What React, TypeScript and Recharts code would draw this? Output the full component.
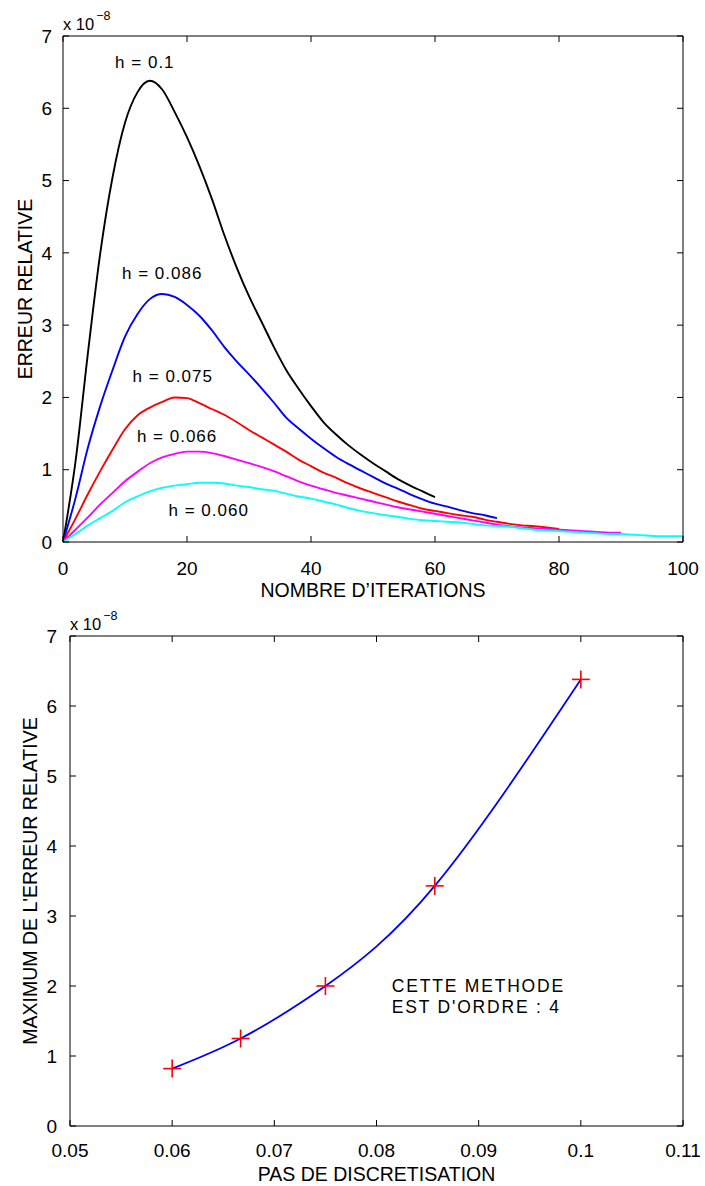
import { Line, LineChart, ReferenceDot, ReferenceLine, XAxis, YAxis } from "recharts";

const FONT = "'Liberation Sans', Arial, Helvetica, sans-serif";

// top chart: relative error vs. iteration count, one curve per step h
const iterations = [
  0, 2, 4, 6, 8, 10, 12, 14, 16, 18, 20, 22, 24, 26, 28, 30, 32, 34, 36, 38, 40, 42, 44, 46, 48, 50,
  52, 54, 56, 58, 60, 62, 64, 66, 68, 70, 72, 74, 76, 78, 80, 82, 84, 86, 88, 90, 92, 94, 96, 98, 100,
];

const err010 = [
  0, 1.1, 2.6, 3.99, 5.05, 5.8, 6.22, 6.38, 6.26, 5.95, 5.6, 5.2, 4.75, 4.25, 3.8, 3.4, 3.05, 2.7,
  2.38, 2.12, 1.88, 1.66, 1.49, 1.34, 1.21, 1.09, 0.98, 0.87, 0.78, 0.7, 0.62,
];
const err086 = [
  0, 0.6, 1.3, 1.88, 2.38, 2.84, 3.15, 3.36, 3.43, 3.39, 3.28, 3.13, 2.93, 2.7, 2.5, 2.32, 2.13, 1.93,
  1.72, 1.57, 1.43, 1.3, 1.18, 1.08, 0.99, 0.9, 0.81, 0.74, 0.66, 0.59, 0.53, 0.49, 0.44, 0.4, 0.37,
  0.33,
];
const err075 = [
  0, 0.32, 0.66, 0.98, 1.28, 1.56, 1.75, 1.86, 1.94, 2.0, 1.99, 1.92, 1.84, 1.76, 1.66, 1.55, 1.45,
  1.35, 1.25, 1.14, 1.05, 0.96, 0.89, 0.81, 0.74, 0.68, 0.62, 0.56, 0.51, 0.46, 0.43, 0.4, 0.37, 0.35,
  0.31, 0.28, 0.25, 0.23, 0.22, 0.2, 0.18,
];
const err066 = [
  0, 0.17, 0.34, 0.52, 0.68, 0.84, 0.97, 1.09, 1.17, 1.22, 1.25, 1.25, 1.23, 1.19, 1.14, 1.09, 1.04,
  0.98, 0.91, 0.84, 0.78, 0.73, 0.68, 0.64, 0.6, 0.56, 0.52, 0.48, 0.45, 0.42, 0.39, 0.36, 0.33, 0.3,
  0.27, 0.24, 0.22, 0.2, 0.19, 0.18, 0.17, 0.16, 0.15, 0.14, 0.13, 0.13,
];
const err060 = [
  0, 0.11, 0.23, 0.33, 0.43, 0.55, 0.63, 0.7, 0.75, 0.78, 0.8, 0.82, 0.82, 0.81, 0.78, 0.76, 0.73,
  0.71, 0.67, 0.63, 0.6, 0.56, 0.52, 0.47, 0.43, 0.4, 0.37, 0.35, 0.32, 0.3, 0.29, 0.28, 0.27, 0.25,
  0.23, 0.22, 0.21, 0.19, 0.17, 0.16, 0.15, 0.14, 0.13, 0.12, 0.11, 0.11, 0.1, 0.09, 0.08, 0.08, 0.08,
];

const seriesKeys = ["h010", "h086", "h075", "h066", "h060"];
const seriesColors = ["#000000", "#0000ff", "#ff0000", "#ff00ff", "#00ffff"];
const seriesValues = [err010, err086, err075, err066, err060];

const curveLabels = ["h = 0.1", "h = 0.086", "h = 0.075", "h = 0.066", "h = 0.060"];
const labelIters = [13.2, 16.0, 17.7, 18.4, 23.5];
const labelErrors = [6.64, 3.72, 2.3, 1.47, 0.44];

const errTicks = [0, 1, 2, 3, 4, 5, 6, 7];
const iterTicks = [0, 20, 40, 60, 80, 100];

// bottom chart: max error vs. step size
const hSteps = [0.06, 0.0667, 0.075, 0.0857, 0.1];
const maxErrors = [0.82, 1.25, 2.0, 3.43, 6.38];
const hTicks = [0.05, 0.06, 0.07, 0.08, 0.09, 0.1, 0.11];

const noteLines = ["CETTE METHODE", "EST D'ORDRE : 4"];
const noteH = [0.0815, 0.0815];
const noteErr = [2.0, 1.7];

const iterRows = iterations.map((it, i) => {
  const row: Record<string, number | undefined> = { it };
  seriesKeys.forEach((k, s) => {
    row[k] = seriesValues[s][i];
  });
  return row;
});

const orderRows = hSteps.map((h, i) => ({ h, err: maxErrors[i] }));

const tickStyle = { fontSize: 19, fill: "#000" };

// box on + inward ticks on all four sides (matlab style), drawn in data units
function frame(
  xTicks: number[],
  yTicks: number[],
  xDom: [number, number],
  yDom: [number, number],
  tx: number,
  ty: number,
  id: string
) {
  const [x0, x1] = xDom;
  const [y0, y1] = yDom;
  const seg = (a: any, b: any, key: string) => (
    <ReferenceLine key={`${id}-${key}`} segment={[a, b]} stroke="#000" strokeWidth={1} ifOverflow="visible" />
  );
  const out = [
    seg({ x: x0, y: y1 }, { x: x1, y: y1 }, "top"),
    seg({ x: x1, y: y0 }, { x: x1, y: y1 }, "right"),
  ];
  xTicks.forEach((v) => {
    out.push(seg({ x: v, y: y0 }, { x: v, y: y0 + ty }, `xb${v}`));
    out.push(seg({ x: v, y: y1 }, { x: v, y: y1 - ty }, `xt${v}`));
  });
  yTicks.forEach((v) => {
    out.push(seg({ x: x0, y: v }, { x: x0 + tx, y: v }, `yl${v}`));
    out.push(seg({ x: x1, y: v }, { x: x1 - tx, y: v }, `yr${v}`));
  });
  return out;
}

function yTitle(text: string, offsetX: number) {
  return (props: any) => {
    const vb = props.viewBox;
    const cx = vb.x + offsetX;
    const cy = vb.y + vb.height / 2;
    return (
      <g>
        <text
          x={cx}
          y={cy}
          transform={`rotate(-90 ${cx} ${cy})`}
          textAnchor="middle"
          dominantBaseline="central"
          fontSize={19.5}
          fill="#000"
        >
          {text}
        </text>
        <text x={vb.x + vb.width} y={vb.y - 6} fontSize={16.5} fill="#000">
          x 10
          <tspan dx={2} dy={-10} fontSize={12.5}>
            −8
          </tspan>
        </text>
      </g>
    );
  };
}

function xTitle(text: string) {
  return (props: any) => {
    const vb = props.viewBox;
    return (
      <text x={vb.x + vb.width / 2} y={vb.y + 55} textAnchor="middle" fontSize={19.5} fill="#000">
        {text}
      </text>
    );
  };
}

function Cross(props: any) {
  const { cx, cy, index } = props;
  return (
    <g key={`cross-${index}`}>
      <line x1={cx - 9} y1={cy} x2={cx + 9} y2={cy} stroke="#ff0000" strokeWidth={1.6} />
      <line x1={cx} y1={cy - 9} x2={cx} y2={cy + 9} stroke="#ff0000" strokeWidth={1.6} />
    </g>
  );
}

export default function App() {
  return (
    <div
      style={{
        position: "absolute",
        left: 0,
        top: 0,
        width: 705,
        height: 1186,
        background: "#fff",
        fontFamily: FONT,
      }}
    >
      <LineChart width={705} height={600} data={iterRows} margin={{ top: 36, right: 22, bottom: 0, left: 0 }}>
        <XAxis
          dataKey="it"
          type="number"
          domain={[0, 100]}
          ticks={iterTicks}
          interval={0}
          height={58}
          stroke="#000"
          tick={tickStyle}
          tickLine={false}
          tickMargin={14}
          label={xTitle("NOMBRE D’ITERATIONS")}
        />
        <YAxis
          type="number"
          domain={[0, 7]}
          ticks={errTicks}
          interval={0}
          width={63}
          stroke="#000"
          tick={tickStyle}
          tickLine={false}
          tickMargin={5}
          label={yTitle("ERREUR RELATIVE", 25)}
        />
        {seriesKeys.map((k, s) => (
          <Line
            key={k}
            type="monotone"
            dataKey={k}
            stroke={seriesColors[s]}
            strokeWidth={1.9}
            dot={false}
            activeDot={false}
            isAnimationActive={false}
          />
        ))}
        {frame(iterTicks, errTicks, [0, 100], [0, 7], 0.97, 0.083, "top")}
        {curveLabels.map((text, i) => (
          <ReferenceDot
            key={text}
            x={labelIters[i]}
            y={labelErrors[i]}
            r={0}
            fill="none"
            stroke="none"
            label={{ value: text, position: "center", fontSize: 17, fill: "#000", letterSpacing: 1 }}
          />
        ))}
      </LineChart>

      <div style={{ position: "absolute", left: 0, top: 600 }}>
        <LineChart width={705} height={586} data={orderRows} margin={{ top: 36, right: 22, bottom: 0, left: 0 }}>
          <XAxis
            dataKey="h"
            type="number"
            domain={[0.05, 0.11]}
            ticks={hTicks}
            interval={0}
            height={60}
            stroke="#000"
            tick={tickStyle}
            tickLine={false}
            tickMargin={12}
            label={xTitle("PAS DE DISCRETISATION")}
          />
          <YAxis
            type="number"
            domain={[0, 7]}
            ticks={errTicks}
            interval={0}
            width={70}
            stroke="#000"
            tick={tickStyle}
            tickLine={false}
            tickMargin={7}
            label={yTitle("MAXIMUM DE L'ERREUR RELATIVE", 30)}
          />
          <Line
            type="natural"
            dataKey="err"
            stroke="#0000ff"
            strokeWidth={1.8}
            dot={Cross}
            activeDot={false}
            isAnimationActive={false}
          />
          {frame(hTicks, errTicks, [0.05, 0.11], [0, 7], 0.000587, 0.086, "bot")}
          {noteLines.map((text, i) => (
            <ReferenceDot
              key={text}
              x={noteH[i]}
              y={noteErr[i]}
              r={0}
              fill="none"
              stroke="none"
              label={{ value: text, position: "right", offset: 0, fontSize: 17.5, fill: "#000", letterSpacing: 1.8 }}
            />
          ))}
        </LineChart>
      </div>
    </div>
  );
}
